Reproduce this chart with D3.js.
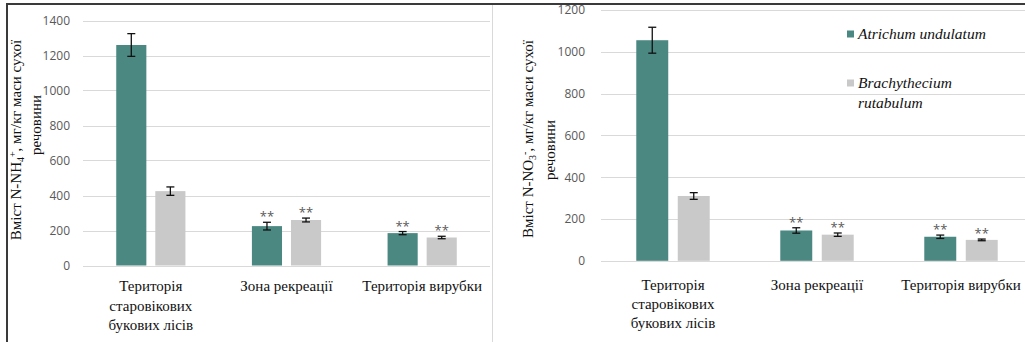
<!DOCTYPE html>
<html>
<head>
<meta charset="utf-8">
<script src="https://cdn.jsdelivr.net/npm/d3@7"></script>
<style>
  html, body { margin: 0; padding: 0; background: #fff; }
  svg { display: block; }
  .serif { font-family: "Liberation Serif", "DejaVu Serif", serif; }
  .sans { font-family: "Open Sans", "Liberation Sans", sans-serif; }
</style>
</head>
<body>
<svg id="chart" width="1025" height="342"></svg>
<script>
// Sampling sites (x-axis groups) and their wrapped labels
const categories = ["Територія старовікових букових лісів", "Зона рекреації", "Територія вирубки"];
const categoryLines = [["Територія", "старовікових", "букових лісів"], ["Зона рекреації"], ["Територія вирубки"]];

// Moss species (series)
const seriesNames = ["Atrichum undulatum", "Brachythecium rutabulum"];
const seriesColors = ["#4b8882", "#c9c9c9"];

// Ammonium nitrogen, mg/kg dry matter
const nh4Atrichum = [1260, 225, 185];
const nh4AtrichumErr = [65, 22, 9];
const nh4Brachy = [425, 260, 160];
const nh4BrachyErr = [24, 11, 7];

// Nitrate nitrogen, mg/kg dry matter
const no3Atrichum = [1055, 145, 115];
const no3AtrichumErr = [62, 13, 8];
const no3Brachy = [310, 125, 100];
const no3BrachyErr = [16, 8, 4];

// Significance marks per group
const marks = ["", "**", "**"];

// Axis ticks
const nh4Ticks = [0, 200, 400, 600, 800, 1000, 1200, 1400];
const no3Ticks = [0, 200, 400, 600, 800, 1000, 1200];

const svg = d3.select("#chart");

function drawPanel(cfg) {
  const g = svg.append("g");
  const x = d3.scaleBand().domain(categories).range([cfg.x0, cfg.x1]);
  const y = d3.scaleLinear().domain([0, cfg.max]).range([cfg.yBottom, cfg.yTop]);
  const bw = x.bandwidth() * 0.222;
  const gap = x.bandwidth() * 0.066;

  // gridlines
  g.append("g").selectAll("line").data(cfg.ticks).join("line")
    .attr("x1", cfg.x0).attr("x2", cfg.gridEnd)
    .attr("y1", d => Math.round(y(d)) + 0.5).attr("y2", d => Math.round(y(d)) + 0.5)
    .attr("stroke", "#d9d9d9").attr("stroke-width", 1);

  // tick labels via axis generator
  const ax = g.append("g")
    .attr("transform", `translate(${cfg.labelX},0)`)
    .call(d3.axisLeft(y).tickValues(cfg.ticks).tickFormat(d3.format("d")).tickSize(0).tickPadding(0));
  ax.select(".domain").remove();
  ax.attr("font-family", null);
  ax.selectAll("text")
    .attr("class", "sans").attr("font-size", 12).attr("fill", "#595959");

  const series = [
    { vals: cfg.a, err: cfg.aErr, off: -(bw + gap) / 2, color: seriesColors[0] },
    { vals: cfg.b, err: cfg.bErr, off: (bw + gap) / 2, color: seriesColors[1] }
  ];

  series.forEach(s => {
    const cx = (d, i) => x(categories[i]) + x.bandwidth() / 2 + s.off;
    const sg = g.append("g");
    sg.selectAll("rect").data(s.vals).join("rect")
      .attr("x", (d, i) => cx(d, i) - bw / 2)
      .attr("width", bw)
      .attr("y", d => y(d))
      .attr("height", d => y(0) - y(d))
      .attr("fill", s.color);
    // error bars
    const eg = sg.selectAll("g.err").data(s.vals).join("g").attr("class", "err");
    eg.append("line")
      .attr("x1", (d, i) => cx(d, i)).attr("x2", (d, i) => cx(d, i))
      .attr("y1", (d, i) => y(d + s.err[i])).attr("y2", (d, i) => y(d - s.err[i]))
      .attr("stroke", "#111").attr("stroke-width", 1.3);
    [1, -1].forEach(sign => {
      eg.append("line")
        .attr("x1", (d, i) => cx(d, i) - 4).attr("x2", (d, i) => cx(d, i) + 4)
        .attr("y1", (d, i) => y(d + sign * s.err[i])).attr("y2", (d, i) => y(d + sign * s.err[i]))
        .attr("stroke", "#111").attr("stroke-width", 1.3);
    });
    // significance marks
    sg.selectAll("text.mark").data(s.vals).join("text").attr("class", "mark sans")
      .attr("x", (d, i) => cx(d, i))
      .attr("y", (d, i) => y(d + s.err[i]) - 1)
      .attr("text-anchor", "middle")
      .attr("font-size", 13).attr("fill", "#595959")
      .text((d, i) => marks[i]);
  });

  // category labels
  categories.forEach((c, i) => {
    const t = g.append("text")
      .attr("class", "serif")
      .attr("text-anchor", "middle")
      .attr("font-size", 15).attr("fill", "#111");
    categoryLines[i].forEach((ln, k) => {
      t.append("tspan")
        .attr("x", x(c) + x.bandwidth() / 2)
        .attr("y", cfg.catY + k * cfg.catStep)
        .text(ln);
    });
  });

  // axis title (two rotated lines)
  const t1 = g.append("text")
    .attr("class", "serif")
    .attr("transform", `translate(${cfg.titleX1},${cfg.titleY1}) rotate(-90)`)
    .attr("text-anchor", "middle")
    .attr("font-size", 15).attr("fill", "#111");
  t1.append("tspan").text("Вміст N-" + cfg.ion);
  t1.append("tspan").attr("dy", 3).attr("font-size", 10).text(cfg.sub);
  t1.append("tspan").attr("dy", -8).attr("font-size", 10).text(cfg.sup);
  t1.append("tspan").attr("dy", 5).text(",  мг/кг маси сухої");
  g.append("text")
    .attr("class", "serif")
    .attr("transform", `translate(${cfg.titleX2},${cfg.titleY2}) rotate(-90)`)
    .attr("text-anchor", "middle")
    .attr("font-size", 15).attr("fill", "#111")
    .text("речовини");
  return { x, y };
}

// Left panel: ammonium
drawPanel({
  x0: 83, x1: 490, gridEnd: 490, labelX: 70,
  max: 1400, yBottom: 265.5, yTop: 20.5, ticks: nh4Ticks,
  a: nh4Atrichum, aErr: nh4AtrichumErr, b: nh4Brachy, bErr: nh4BrachyErr,
  catY: 291, catStep: 19.5,
  ion: "NH", sub: "4", sup: "+",
  titleX1: 21, titleY1: 140, titleX2: 41, titleY2: 125
});

// Right panel: nitrate
drawPanel({
  x0: 601, x1: 1033, gridEnd: 1025, labelX: 585,
  max: 1200, yBottom: 260.8, yTop: 9.9, ticks: no3Ticks,
  a: no3Atrichum, aErr: no3AtrichumErr, b: no3Brachy, bErr: no3BrachyErr,
  catY: 290, catStep: 19,
  ion: "NO", sub: "3", sup: "-",
  titleX1: 533, titleY1: 139, titleX2: 555, titleY2: 150
});

// Legend of the right panel
const legend = svg.append("g");
const legendRows = [
  { y: 34, lines: ["Atrichum undulatum"] },
  { y: 83, lines: ["Brachythecium", "rutabulum"] }
];
legendRows.forEach((r, i) => {
  legend.append("rect")
    .attr("x", 847).attr("y", r.y - 3.5).attr("width", 7).attr("height", 7)
    .attr("fill", seriesColors[i]);
  const t = legend.append("text")
    .attr("class", "serif")
    .attr("font-size", 15.5).attr("font-style", "italic")
    .attr("fill", "#111");
  r.lines.forEach((ln, k) => {
    t.append("tspan").attr("x", 858).attr("y", r.y + 5 + k * 20).text(ln);
  });
});

// Frame
svg.append("line").attr("x1", 492.5).attr("x2", 492.5).attr("y1", 4).attr("y2", 342)
  .attr("stroke", "#d9d9d9").attr("stroke-width", 1);
svg.append("rect").attr("x", 0).attr("y", 0).attr("width", 1025).attr("height", 3).attr("fill", "#fff");
svg.append("line").attr("x1", 6).attr("x2", 1025).attr("y1", 4).attr("y2", 4)
  .attr("stroke", "#3a3a3a").attr("stroke-width", 2);
svg.append("line").attr("x1", 7).attr("x2", 7).attr("y1", 3).attr("y2", 342)
  .attr("stroke", "#3a3a3a").attr("stroke-width", 2);
</script>
</body>
</html>
